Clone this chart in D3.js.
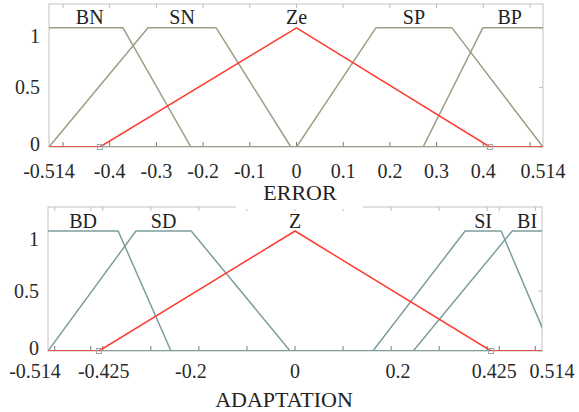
<!DOCTYPE html>
<html>
<head>
<meta charset="utf-8">
<script src="https://cdn.jsdelivr.net/npm/d3@7/dist/d3.min.js"></script>
<style>
  body { margin: 0; background: #fff; }
  svg { display: block; font-family: "Liberation Serif", "DejaVu Serif", serif; }
  .tick-label { font-size: 20px; fill: #2a2a2a; }
  .mf-label { font-size: 20px; fill: #222; }
  .axis-title { font-size: 22px; fill: #222; }
</style>
</head>
<body>
<svg id="chart" width="579" height="412"></svg>
<script>
// Membership functions, trapezoid parameters [a, b, c, d]
const errorNames = ["BN", "SN", "Ze", "SP", "BP"];
const errorParams = [
    [-0.514, -0.514, -0.3715, -0.226],
    [-0.514, -0.318, -0.172, -0.012],
    [-0.421, 0, 0, 0.414],
    [0, 0.170, 0.333, 0.514],
    [0.271, 0.399, 0.514, 0.514]
];
const errorTicks = [-0.514, -0.4, -0.3, -0.2, -0.1, 0, 0.1, 0.2, 0.3, 0.4, 0.514];

const adaptNames = ["BD", "SD", "Z", "SI", "BI"];
const adaptParams = [
    [-0.514, -0.514, -0.368, -0.258],
    [-0.514, -0.331, -0.216, -0.010],
    [-0.408, 0, 0, 0.408],
    [0.162, 0.354, 0.429, 0.535],
    [0.246, 0.452, 0.514, 0.514]
];
const adaptTicks = [-0.514, -0.425, -0.2, 0, 0.2, 0.425, 0.514];

const yTicks = [0, 0.5, 1];
const minorTicks = [-0.5, -0.4, -0.3, -0.2, -0.1, 0, 0.1, 0.2, 0.3, 0.4, 0.5];

const svg = d3.select("#chart");

// Top panel: the +-0.514 labels sit on the frame, inner ticks are 0.1 apart
const errorX = d3.scaleLinear()
    .domain([-0.514, -0.5, 0.5, 0.514])
    .range([49, 63, 530, 543]);

const adaptX = d3.scaleLinear()
    .domain([-0.514, 0.514])
    .range([48, 542]);

drawPanel(svg.append("g"), {
    x: errorX,
    y: d3.scaleLinear().domain([0, 1.2]).range([147, 4]),
    names: errorNames,
    params: errorParams,
    ticks: errorTicks,
    tickLabelY: 178,
    labelNudge: {},
    mfColor: "#9d9d86",
    highlight: 2,
    title: "ERROR",
    titleX: 300,
    titleY: 200,
    clipId: "clip-error"
});

drawPanel(svg.append("g"), {
    x: adaptX,
    y: d3.scaleLinear().domain([0, 1.2]).range([351, 207]),
    names: adaptNames,
    params: adaptParams,
    ticks: adaptTicks,
    tickLabelY: 378,
    labelNudge: { "-0.514": -13, "-0.425": 13, "-0.2": -8, "0.2": 7, "0.425": -5, "0.514": 10 },
    mfColor: "#7e9d9d",
    highlight: 2,
    title: "ADAPTATION",
    titleX: 284,
    titleY: 407,
    clipId: "clip-adapt"
});

// ERROR title sits on a white box that hides part of the lower frame
const cover = svg.append("g");
cover.append("rect")
    .attr("x", 236).attr("y", 180)
    .attr("width", 127).attr("height", 29)
    .attr("fill", "#fff");
cover.node().appendChild(svg.select(".title-ERROR").node());

// Builds the polyline of one membership function over the whole range
function mfPoints(p, lo, hi) {
    const [a, b, c, d] = p;
    const pts = [];
    if (a > lo) pts.push([lo, 0]);
    if (a < b) pts.push([a, 0]);
    pts.push([b, 1]);
    pts.push([c, 1]);
    if (c < d) pts.push([d, 0]);
    if (d < hi) pts.push([hi, 0]);
    return pts;
}

function drawPanel(g, cfg) {
    const xr = cfg.x.range();
    const xd = cfg.x.domain();
    const x0 = xr[0], x1 = xr[xr.length - 1];
    const [y0, y1] = cfg.y.range();
    const lo = xd[0], hi = xd[xd.length - 1];

    g.append("clipPath").attr("id", cfg.clipId)
        .append("rect")
        .attr("x", x0).attr("y", y1)
        .attr("width", x1 - x0).attr("height", y0 - y1);

    // frame
    g.append("rect")
        .attr("x", x0).attr("y", y1)
        .attr("width", x1 - x0).attr("height", y0 - y1)
        .attr("fill", "none")
        .attr("stroke", "#c2c2c2")
        .attr("stroke-width", 1);

    // tick marks, bottom and top
    const allTicks = Array.from(new Set(minorTicks.concat(cfg.ticks.filter(function(t) {
        return Math.abs(t) < 0.5;
    }))));
    g.selectAll(".xtick-b").data(allTicks).enter().append("line")
        .attr("x1", function(d) { return cfg.x(d); })
        .attr("x2", function(d) { return cfg.x(d); })
        .attr("y1", y0).attr("y2", y0 - 5)
        .attr("stroke", "#777").attr("stroke-width", 1);
    g.selectAll(".xtick-t").data(allTicks).enter().append("line")
        .attr("x1", function(d) { return cfg.x(d); })
        .attr("x2", function(d) { return cfg.x(d); })
        .attr("y1", y1).attr("y2", y1 + 4)
        .attr("stroke", "#bbb").attr("stroke-width", 1);
    g.selectAll(".ytick").data(yTicks).enter().append("line")
        .attr("x1", x1).attr("x2", x1 - 4)
        .attr("y1", function(d) { return cfg.y(d); })
        .attr("y2", function(d) { return cfg.y(d); })
        .attr("stroke", "#bbb").attr("stroke-width", 1);

    // membership functions, highlighted one drawn last
    const order = d3.range(cfg.params.length).filter(function(i) { return i !== cfg.highlight; });
    order.push(cfg.highlight);
    const line = d3.line()
        .x(function(d) { return cfg.x(d[0]); })
        .y(function(d) { return cfg.y(d[1]); });

    const mfGroup = g.append("g").attr("clip-path", "url(#" + cfg.clipId + ")");
    order.forEach(function(i) {
        mfGroup.append("path")
            .attr("d", line(mfPoints(cfg.params[i], lo, hi)))
            .attr("fill", "none")
            .attr("stroke", i === cfg.highlight ? "#ff3b2f" : cfg.mfColor)
            .attr("stroke-width", 1.5)
            .attr("stroke-linejoin", "round");
    });

    // small square markers at the feet of the highlighted function
    const hp = cfg.params[cfg.highlight];
    g.selectAll(".foot").data([hp[0], hp[3]]).enter().append("rect")
        .attr("x", function(d) { return cfg.x(d) - 2.5; })
        .attr("y", y0 - 2.5)
        .attr("width", 5).attr("height", 5)
        .attr("fill", "none")
        .attr("stroke", "#9aa8a8")
        .attr("stroke-width", 1);

    // names above the plateau centres
    g.selectAll(".mf-label").data(cfg.names).enter().append("text")
        .attr("class", "mf-label")
        .attr("x", function(d, i) { return cfg.x((cfg.params[i][1] + cfg.params[i][2]) / 2); })
        .attr("y", cfg.y(1) - 3.5)
        .attr("text-anchor", "middle")
        .text(function(d) { return d; });

    // x tick labels
    g.selectAll(".xlab").data(cfg.ticks).enter().append("text")
        .attr("class", "tick-label")
        .attr("x", function(d) { return cfg.x(d) + (cfg.labelNudge[String(d)] || 0); })
        .attr("y", cfg.tickLabelY)
        .attr("text-anchor", "middle")
        .text(function(d) { return String(d); });

    // y tick labels
    const yNudge = { 1: 8, 0: -3 };
    g.selectAll(".ylab").data(yTicks).enter().append("text")
        .attr("class", "tick-label")
        .attr("x", x0 - 9)
        .attr("y", function(d) { return cfg.y(d) + (yNudge[d] || 0); })
        .attr("dominant-baseline", "central")
        .attr("text-anchor", "end")
        .text(function(d) { return String(d); });

    g.append("text")
        .attr("class", "axis-title title-" + cfg.title)
        .attr("x", cfg.titleX)
        .attr("y", cfg.titleY)
        .attr("text-anchor", "middle")
        .text(cfg.title);
}
</script>
</body>
</html>
